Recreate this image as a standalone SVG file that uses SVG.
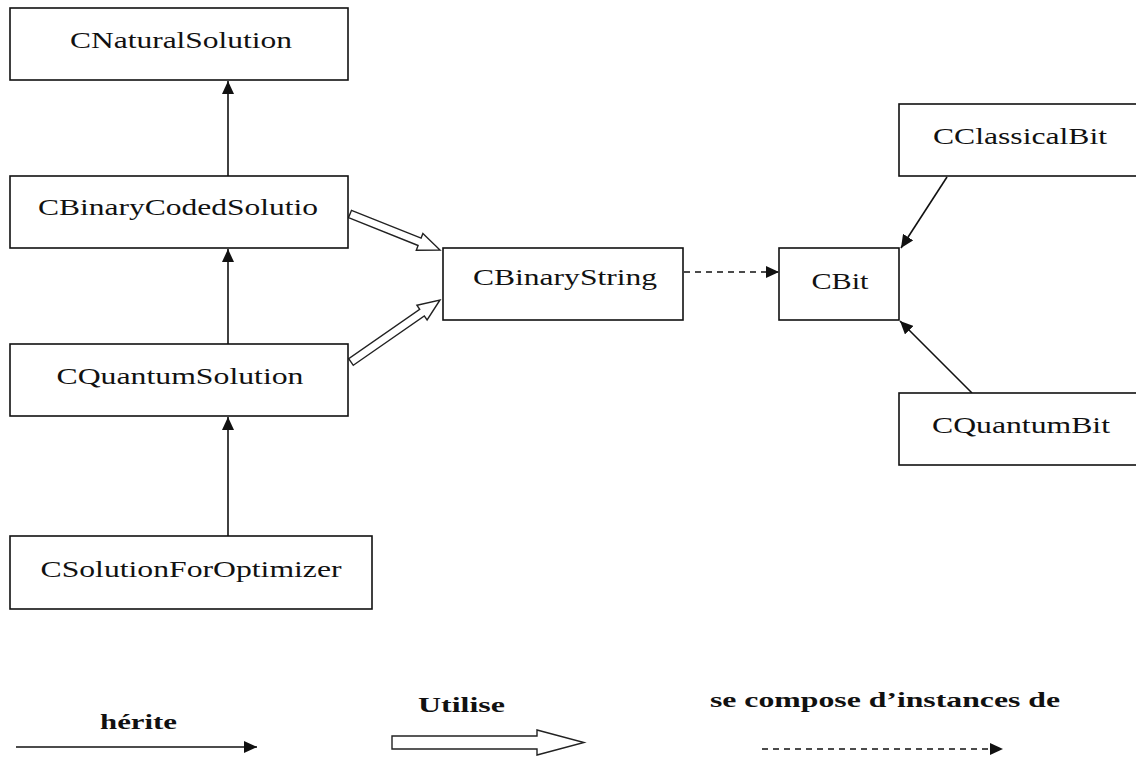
<svg xmlns="http://www.w3.org/2000/svg" width="1136" height="759" viewBox="0 0 1136 759">
  <style>
    .box { fill: #fff; stroke: #111; stroke-width: 1.6; }
    .lbl { font-family: "Liberation Serif", "Times New Roman", serif; font-size: 24px; fill: #111; text-anchor: middle; }
    .leg { font-family: "Liberation Serif", "Times New Roman", serif; font-size: 21px; font-weight: bold; fill: #111; }
    .inh { stroke: #111; stroke-width: 1.6; fill: none; marker-end: url(#solid); }
    .cmp { stroke: #111; stroke-width: 1.6; fill: none; stroke-dasharray: 6 5; marker-end: url(#solid); }
    .use { fill: #fff; stroke: #222; stroke-width: 1.4; stroke-linejoin: miter; }
  </style>
  <defs>
    <marker id="solid" markerUnits="userSpaceOnUse" markerWidth="14" markerHeight="12" refX="13" refY="6" orient="auto">
      <path d="M0,0 L13,6 L0,12 Z" fill="#111"/>
    </marker>
  </defs>
  <rect width="1136" height="759" fill="#fff"/>

  <!-- connectors -->
  <g id="connectors">
    <line class="inh" x1="228" y1="176" x2="228" y2="81"/>
    <line class="inh" x1="228" y1="344" x2="228" y2="249"/>
    <line class="inh" x1="228" y1="536" x2="228" y2="417"/>
    <polygon class="use" points="348.5,217.7 418.1,245.5 416.3,250.2 440,250 422.9,233.4 421.1,238.1 351.5,210.3"/>
    <polygon class="use" points="353.3,365.3 424.3,315.9 427.1,320 440,300 416.9,305.2 419.7,309.3 348.7,358.7"/>
    <line class="cmp" x1="684" y1="272" x2="779" y2="272"/>
    <line class="inh" x1="947" y1="177" x2="901" y2="248"/>
    <line class="inh" x1="972" y1="393" x2="900" y2="321"/>
  </g>

  <g id="CNaturalSolution">
    <rect class="box" x="10" y="8" width="338" height="72"/>
    <text class="lbl" x="181" y="48" textLength="222" lengthAdjust="spacingAndGlyphs">CNaturalSolution</text>
  </g>
  <g id="CBinaryCodedSolutio">
    <rect class="box" x="10" y="176" width="338" height="72"/>
    <text class="lbl" x="178" y="215" textLength="280" lengthAdjust="spacingAndGlyphs">CBinaryCodedSolutio</text>
  </g>
  <g id="CQuantumSolution">
    <rect class="box" x="10" y="344" width="338" height="72"/>
    <text class="lbl" x="180" y="384" textLength="247" lengthAdjust="spacingAndGlyphs">CQuantumSolution</text>
  </g>
  <g id="CSolutionForOptimizer">
    <rect class="box" x="10" y="536" width="362" height="73"/>
    <text class="lbl" x="191" y="577" textLength="301" lengthAdjust="spacingAndGlyphs">CSolutionForOptimizer</text>
  </g>
  <g id="CBinaryString">
    <rect class="box" x="443" y="248" width="240" height="72"/>
    <text class="lbl" x="565" y="285" textLength="184" lengthAdjust="spacingAndGlyphs">CBinaryString</text>
  </g>
  <g id="CBit">
    <rect class="box" x="779" y="248" width="120" height="72"/>
    <text class="lbl" x="840" y="289" textLength="57" lengthAdjust="spacingAndGlyphs">CBit</text>
  </g>
  <g id="CClassicalBit">
    <rect class="box" x="899" y="104" width="240" height="72"/>
    <text class="lbl" x="1020" y="144" textLength="174" lengthAdjust="spacingAndGlyphs">CClassicalBit</text>
  </g>
  <g id="CQuantumBit">
    <rect class="box" x="899" y="393" width="240" height="72"/>
    <text class="lbl" x="1021" y="433" textLength="178" lengthAdjust="spacingAndGlyphs">CQuantumBit</text>
  </g>

  <!-- legend -->
  <g id="legend">
    <text class="leg" x="100" y="729" textLength="77" lengthAdjust="spacingAndGlyphs">hérite</text>
    <line class="inh" x1="16" y1="747" x2="257" y2="747"/>
    <text class="leg" x="418" y="712" textLength="87" lengthAdjust="spacingAndGlyphs">Utilise</text>
    <polygon class="use" points="392,736 537,736 537,730 584,742.5 537,755 537,749 392,749"/>
    <text class="leg" x="710" y="707" textLength="350" lengthAdjust="spacingAndGlyphs">se compose d’instances de</text>
    <line class="cmp" x1="762" y1="749" x2="1003" y2="749"/>
  </g>
</svg>
